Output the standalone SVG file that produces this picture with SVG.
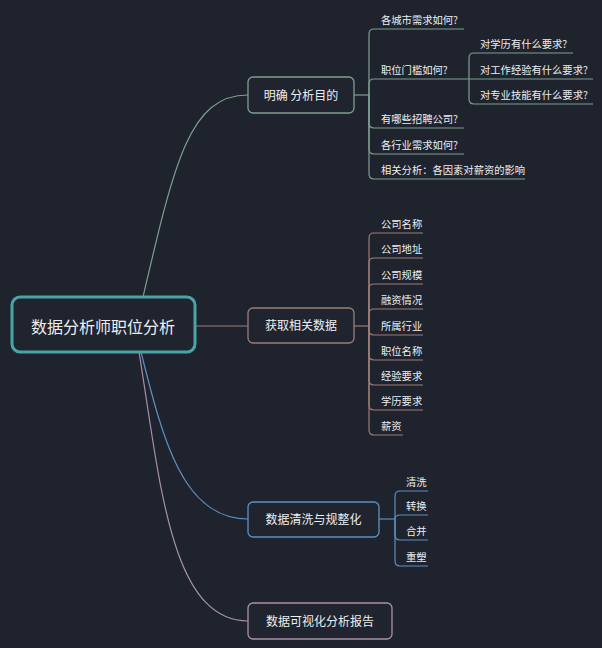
<svg xmlns="http://www.w3.org/2000/svg" width="602" height="648" viewBox="0 0 602 648">
<style>
.bg{fill:#1f232d}
.node{fill:#20242e;stroke-width:1.3}
.t{font-family:"Noto Sans CJK SC","Noto Sans",sans-serif;fill:#eceff1}
.main{font-size:12px;text-anchor:middle}
.leaf{font-size:10.3px}
.c{fill:none;stroke-width:1.2}
.g1{stroke:#7c9f90}
.g2{stroke:#9c7c78}
.g3{stroke:#5f8fc0}
.g4{stroke:#a890aa}
</style>
<rect class="bg" x="0" y="0" width="602" height="648"/>
<g id="connectors">
<path class="c g1" d="M143,297 C175,160 190,95 248,95"/>
<path class="c g2" d="M195,326 L248,326"/>
<path class="c g3" d="M141,352 C163,440 183,519 248,519"/>
<path class="c g4" d="M139,352 C160,480 170,621 248,621"/>
<!-- node1 children -->
<path class="c g1" d="M354,95 L369,95"/>
<path class="c g1" d="M369,95 L369,34 Q369,29 374,29 L464,29"/>
<path class="c g1" d="M369,95 L369,84 Q369,79 374,79 L469,79"/>
<path class="c g1" d="M369,95 L369,123 Q369,128 374,128 L464,128"/>
<path class="c g1" d="M369,95 L369,149 Q369,154 374,154 L464,154"/>
<path class="c g1" d="M369,95 L369,174 Q369,179 374,179 L525,179"/>
<path class="c g1" d="M469,79 L469,58 Q469,53 474,53 L573,53"/>
<path class="c g1" d="M469,79 L593,79"/>
<path class="c g1" d="M469,79 L469,99 Q469,104 474,104 L593,104"/>
<!-- node2 children -->
<path class="c g2" d="M354,326 L369,326"/>
<path class="c g2" d="M369,326 L369,238 Q369,233 374,233 L423,233"/>
<path class="c g2" d="M369,326 L369,263 Q369,258 374,258 L423,258"/>
<path class="c g2" d="M369,326 L369,289 Q369,284 374,284 L423,284"/>
<path class="c g2" d="M369,326 L369,314 Q369,309 374,309 L423,309"/>
<path class="c g2" d="M369,326 L369,330 Q369,335 374,335 L423,335"/>
<path class="c g2" d="M369,326 L369,355 Q369,360 374,360 L423,360"/>
<path class="c g2" d="M369,326 L369,380 Q369,385 374,385 L423,385"/>
<path class="c g2" d="M369,326 L369,405 Q369,410 374,410 L423,410"/>
<path class="c g2" d="M369,326 L369,430 Q369,435 374,435 L403,435"/>
<!-- node3 children -->
<path class="c g3" d="M379,519 L395,519"/>
<path class="c g3" d="M395,519 L395,496 Q395,491 400,491 L428,491"/>
<path class="c g3" d="M395,519 Q395,515 400,515 L428,515"/>
<path class="c g3" d="M395,519 L395,535 Q395,540 400,540 L428,540"/>
<path class="c g3" d="M395,519 L395,561 Q395,566 400,566 L428,566"/>
</g>
<g id="root">
<rect x="12" y="297" width="183" height="55" rx="8" fill="#20242e" stroke="#4aa3a6" stroke-width="3"/>
<text class="t" x="103" y="333" font-size="16" text-anchor="middle">数据分析师职位分析</text>
</g>
<g id="n1">
<rect class="node g1" x="248" y="77" width="106" height="36" rx="5"/>
<text class="t main" x="301" y="99.5">明确 分析目的</text>
</g>
<g id="n2">
<rect class="node g2" x="248" y="308" width="106" height="35" rx="5"/>
<text class="t main" x="301" y="330">获取相关数据</text>
</g>
<g id="n3">
<rect class="node g3" x="248" y="502" width="131" height="35" rx="5"/>
<text class="t main" x="313.5" y="524">数据清洗与规整化</text>
</g>
<g id="n4">
<rect class="node g4" x="248" y="603" width="144" height="36" rx="5"/>
<text class="t main" x="320" y="625.5">数据可视化分析报告</text>
</g>
<g id="n1-children">
<text class="t leaf" x="381" y="24">各城市需求如何?</text>
<text class="t leaf" x="381" y="74">职位门槛如何?</text>
<text class="t leaf" x="381" y="123">有哪些招聘公司?</text>
<text class="t leaf" x="381" y="149">各行业需求如何?</text>
<text class="t leaf" x="381" y="174">相关分析：各因素对薪资的影响</text>
<text class="t leaf" x="480" y="48">对学历有什么要求?</text>
<text class="t leaf" x="480" y="74">对工作经验有什么要求?</text>
<text class="t leaf" x="480" y="99">对专业技能有什么要求?</text>
</g>
<g id="n2-children">
<text class="t leaf" x="381" y="228">公司名称</text>
<text class="t leaf" x="381" y="253">公司地址</text>
<text class="t leaf" x="381" y="279">公司规模</text>
<text class="t leaf" x="381" y="304">融资情况</text>
<text class="t leaf" x="381" y="330">所属行业</text>
<text class="t leaf" x="381" y="355">职位名称</text>
<text class="t leaf" x="381" y="380">经验要求</text>
<text class="t leaf" x="381" y="405">学历要求</text>
<text class="t leaf" x="381" y="430">薪资</text>
</g>
<g id="n3-children">
<text class="t leaf" x="406" y="486">清洗</text>
<text class="t leaf" x="406" y="510">转换</text>
<text class="t leaf" x="406" y="535">合并</text>
<text class="t leaf" x="406" y="561">重塑</text>
</g>
</svg>
